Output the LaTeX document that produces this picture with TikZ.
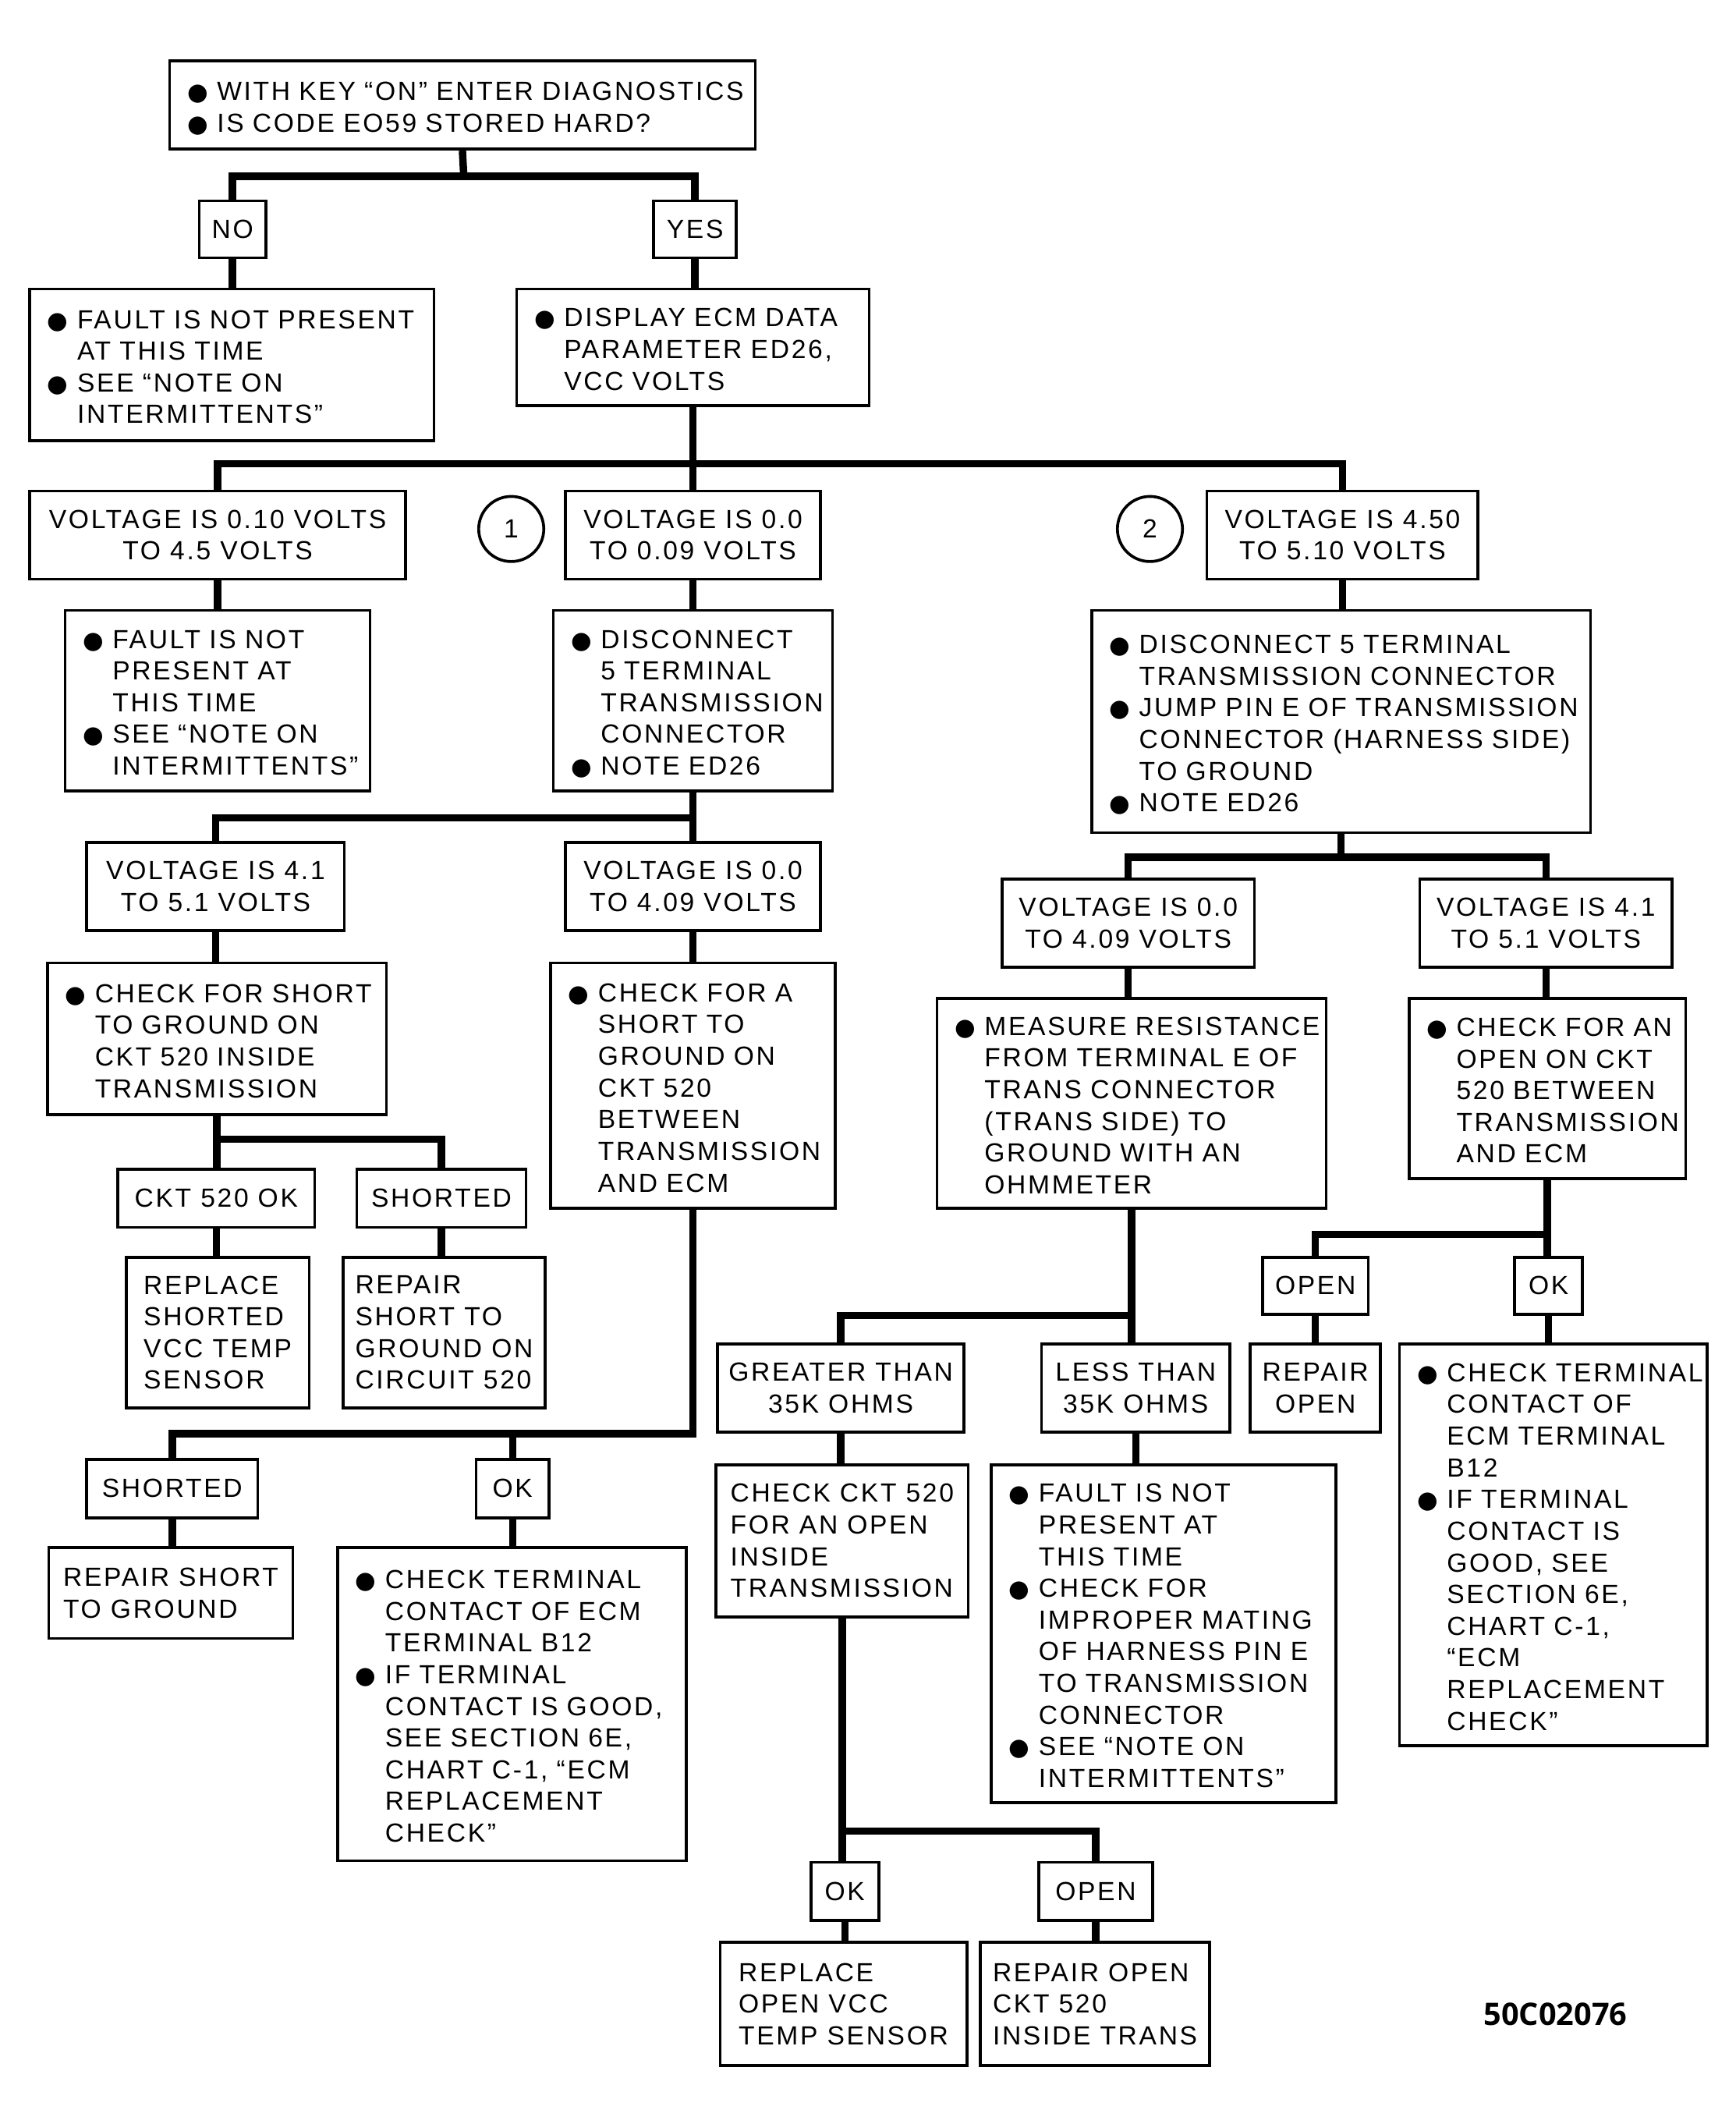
\documentclass[tikz,border=0pt]{standalone}
\usepackage{fontspec}
\setmainfont{Liberation Sans}
\newfontfamily\chartfont[LetterSpace=8]{Liberation Sans}
\newfontfamily\dotfont{DejaVu Sans}
\newfontfamily\codefont{Open Sans}
\usepackage{tikz}
\newlength\bltw
\setlength\bltw{0.44cm}
\newcommand\blt{\makebox[\bltw][l]{\dotfont\fontsize{10}{10}\selectfont ●}}
\newcommand\itm[1]{\par\noindent\blt\begin{tabular}[t]{@{}l@{}}#1\end{tabular}\par}
\newcommand\chartsize{\chartfont\fontsize{11}{13.3}\selectfont\lineskip=0pt\lineskiplimit=0pt}
\tikzset{
  box/.style={draw, line width=1.2pt, font=\chartsize},
  lbox/.style 2 args={box, align=left, inner xsep=0.26cm, inner ysep=0pt,
    minimum width=#1cm, minimum height=#2cm, text width=#1cm-0.52cm},
  cbox/.style 2 args={box, align=center, inner sep=0pt,
    minimum width=#1cm, minimum height=#2cm},
  tbox/.style 2 args={cbox={#1}{#2}, align=left},
  num/.style={draw, circle, line width=1.2pt, minimum size=0.96cm, inner sep=0pt,
    font=\chartsize},
  link/.style={line width=3.1pt},
}
\begin{document}
\begin{tikzpicture}[x=0.02cm, y=-0.02cm]
  \useasboundingbox (0,0) rectangle (1280,1566);
  % top question
  \node[lbox={8.64}{1.30}] (diag) at (341,77.5) {\itm{WITH KEY “ON” ENTER DIAGNOSTICS}\itm{IS CODE EO59 STORED HARD?}};
  \node[cbox={0.98}{0.84}] (no) at (171.5,169) {NO};
  \node[cbox={1.22}{0.84}] (yes) at (512.5,169) {YES};
  \node[lbox={5.96}{2.24}] (fault1) at (171,269) {\itm{FAULT IS NOT PRESENT\\AT THIS TIME}\itm{SEE “NOTE ON\\INTERMITTENTS”}};
  \node[lbox={5.20}{1.72}] (disp) at (511,256) {\itm{DISPLAY ECM DATA\\PARAMETER ED26,\\VCC VOLTS}};
  % voltage rows
  \node[cbox={5.54}{1.30}] (v1) at (160.5,394.5) {VOLTAGE IS 0.10 VOLTS\\TO 4.5 VOLTS};
  \node[num] (n1) at (377,390) {1};
  \node[cbox={3.76}{1.30}] (v2) at (511,394.5) {VOLTAGE IS 0.0\\TO 0.09 VOLTS};
  \node[num] (n2) at (848,390) {2};
  \node[cbox={4.0}{1.30}] (v3) at (990,394.5) {VOLTAGE IS 4.50\\TO 5.10 VOLTS};
  \node[lbox={4.5}{2.66}] (fault2) at (160.5,516.5) {\itm{FAULT IS NOT\\PRESENT AT\\THIS TIME}\itm{SEE “NOTE ON\\INTERMITTENTS”}};
  \node[lbox={4.12}{2.66}] (disc1) at (511,516.5) {\itm{DISCONNECT\\5 TERMINAL\\TRANSMISSION\\CONNECTOR}\itm{NOTE ED26}};
  \node[lbox={7.36}{3.28}] (disc2) at (989,532) {\itm{DISCONNECT 5 TERMINAL\\TRANSMISSION CONNECTOR}\itm{JUMP PIN E OF TRANSMISSION\\CONNECTOR (HARNESS SIDE)\\TO GROUND}\itm{NOTE ED26}};
  % left branch (1)
  \node[cbox={3.8}{1.30}] (v4) at (159,653.5) {VOLTAGE IS 4.1\\TO 5.1 VOLTS};
  \node[cbox={3.76}{1.30}] (v5) at (511,653.5) {VOLTAGE IS 0.0\\TO 4.09 VOLTS};
  \node[lbox={5.0}{2.24}] (chk1) at (160,766) {\itm{CHECK FOR SHORT\\TO GROUND ON\\CKT 520 INSIDE\\TRANSMISSION}};
  \node[lbox={4.2}{3.62}] (chk2) at (511,800.5) {\itm{CHECK FOR A\\SHORT TO\\GROUND ON\\CKT 520\\BETWEEN\\TRANSMISSION\\AND ECM}};
  \node[cbox={2.9}{0.86}] (ckok) at (159.5,883.5) {CKT 520 OK};
  \node[cbox={2.5}{0.86}] (sh1) at (325.5,883.5) {SHORTED};
  \node[tbox={2.7}{2.22}] (rep1) at (160.5,982.5) {REPLACE\\SHORTED\\VCC TEMP\\SENSOR};
  \node[tbox={2.98}{2.22}] (rep2) at (327.5,982.5) {REPAIR\\SHORT TO\\GROUND ON\\CIRCUIT 520};
  \node[cbox={2.52}{0.86}] (sh2) at (127,1097.5) {SHORTED};
  \node[cbox={1.08}{0.86}] (ok1) at (378,1097.5) {OK};
  \node[tbox={3.6}{1.34}] (rsg) at (126,1174.5) {REPAIR SHORT\\TO GROUND};
  \node[lbox={5.14}{4.62}] (term1) at (377.5,1256.5) {\itm{CHECK TERMINAL\\CONTACT OF ECM\\TERMINAL B12}\itm{IF TERMINAL\\CONTACT IS GOOD,\\SEE SECTION 6E,\\CHART C-1, “ECM\\REPLACEMENT\\CHECK”}};
  % right branch (2)
  \node[cbox={3.72}{1.30}] (v6) at (832,680.5) {VOLTAGE IS 0.0\\TO 4.09 VOLTS};
  \node[cbox={3.72}{1.30}] (v7) at (1140,680.5) {VOLTAGE IS 4.1\\TO 5.1 VOLTS};
  \node[lbox={5.74}{3.10}] (meas) at (834.5,813.5) {\itm{MEASURE RESISTANCE\\FROM TERMINAL E OF\\TRANS CONNECTOR\\(TRANS SIDE) TO\\GROUND WITH AN\\OHMMETER}};
  \node[lbox={4.08}{2.66}] (chko) at (1141,802.5) {\itm{CHECK FOR AN\\OPEN ON CKT\\520 BETWEEN\\TRANSMISSION\\AND ECM}};
  \node[cbox={3.64}{1.30}] (gt) at (620,1023.5) {GREATER THAN\\35K OHMS};
  \node[cbox={2.78}{1.30}] (lt) at (837.5,1023.5) {LESS THAN\\35K OHMS};
  \node[cbox={1.56}{0.84}] (op1) at (970,948) {OPEN};
  \node[cbox={1.0}{0.84}] (ok2) at (1142,948) {OK};
  \node[cbox={1.92}{1.30}] (ropen) at (970,1023.5) {REPAIR\\OPEN};
  \node[lbox={4.54}{5.92}] (term2) at (1145.5,1139) {\itm{CHECK TERMINAL\\CONTACT OF\\ECM TERMINAL\\B12}\itm{IF TERMINAL\\CONTACT IS\\GOOD, SEE\\SECTION 6E,\\CHART C-1,\\“ECM\\REPLACEMENT\\CHECK”}};
  \node[tbox={3.72}{2.24}] (ckt) at (621,1136) {CHECK CKT 520\\FOR AN OPEN\\INSIDE\\TRANSMISSION};
  \node[lbox={5.08}{4.98}] (fault3) at (858,1204.5) {\itm{FAULT IS NOT\\PRESENT AT\\THIS TIME}\itm{CHECK FOR\\IMPROPER MATING\\OF HARNESS PIN E\\TO TRANSMISSION\\CONNECTOR}\itm{SEE “NOTE ON\\INTERMITTENTS”}};
  \node[cbox={1.0}{0.86}] (ok3) at (623,1394.5) {OK};
  \node[cbox={1.68}{0.86}] (op2) at (808,1394.5) {OPEN};
  \node[tbox={3.64}{1.82}] (rep3) at (622,1477.5) {REPLACE\\OPEN VCC\\TEMP SENSOR};
  \node[tbox={3.38}{1.82}] (rep4) at (807.5,1477.5) {REPAIR OPEN\\CKT 520\\INSIDE TRANS};
  \node[font=\codefont\bfseries\fontsize{13}{13}\selectfont] (code) at (1147,1485) {50C02076};
  % connectors
  \coordinate (j0) at (342,130);
  \draw[link] (diag.south) -- (j0);
  \draw[link] (no.north) |- (j0) -| (yes.north);
  \draw[link] (no.south) -- (no.south |- fault1.north);
  \draw[link] (yes.south) -- (yes.south |- disp.north);
  \coordinate (j1) at (511,342);
  \draw[link] (disp.south) -- (disp.south |- v2.north);
  \draw[link] (v1.north) |- (j1) -| (v3.north);
  \draw[link] (v1.south) -- (v1.south |- fault2.north);
  \draw[link] (v2.south) -- (v2.south |- disc1.north);
  \draw[link] (v3.south) -- (v3.south |- disc2.north);
  \coordinate (j2) at (511,603);
  \draw[link] (disc1.south) -- (disc1.south |- v5.north);
  \draw[link] (v4.north) |- (j2);
  \draw[link] (v4.south) -- (v4.south |- chk1.north);
  \draw[link] (v5.south) -- (v5.south |- chk2.north);
  \coordinate (j3) at (989,632);
  \draw[link] (disc2.south) -- (j3);
  \draw[link] (v6.north) |- (j3) -| (v7.north);
  \draw[link] (v6.south) -- (v6.south |- meas.north);
  \draw[link] (v7.south) -- (v7.south |- chko.north);
  \coordinate (j4) at (160,840);
  \draw[link] (chk1.south) -- (chk1.south |- ckok.north);
  \draw[link] (j4) -| (sh1.north);
  \draw[link] (ckok.south) -- (ckok.south |- rep1.north);
  \draw[link] (sh1.south) -- (sh1.south |- rep2.north);
  \coordinate (j5) at (511,1057);
  \draw[link] (chk2.south) -- (j5) -| (sh2.north);
  \draw[link] (ok1.north) -- (ok1.north |- j5);
  \draw[link] (sh2.south) -- (sh2.south |- rsg.north);
  \draw[link] (ok1.south) -- (ok1.south |- term1.north);
  \coordinate (j6) at (834.5,970);
  \draw[link] (meas.south) -- (meas.south |- lt.north);
  \draw[link] (j6) -| (gt.north);
  \draw[link] (gt.south) -- (gt.south |- ckt.north);
  \draw[link] (lt.south) -- (lt.south |- fault3.north);
  \coordinate (j7) at (1141,910);
  \draw[link] (chko.south) -- (chko.south |- ok2.north);
  \draw[link] (j7) -| (op1.north);
  \draw[link] (op1.south) -- (op1.south |- ropen.north);
  \draw[link] (ok2.south) -- (ok2.south |- term2.north);
  \coordinate (j8) at (621,1350);
  \draw[link] (ckt.south) -- (ckt.south |- ok3.north);
  \draw[link] (j8) -| (op2.north);
  \draw[link] (ok3.south) -- (ok3.south |- rep3.north);
  \draw[link] (op2.south) -- (op2.south |- rep4.north);
\end{tikzpicture}
\end{document}
